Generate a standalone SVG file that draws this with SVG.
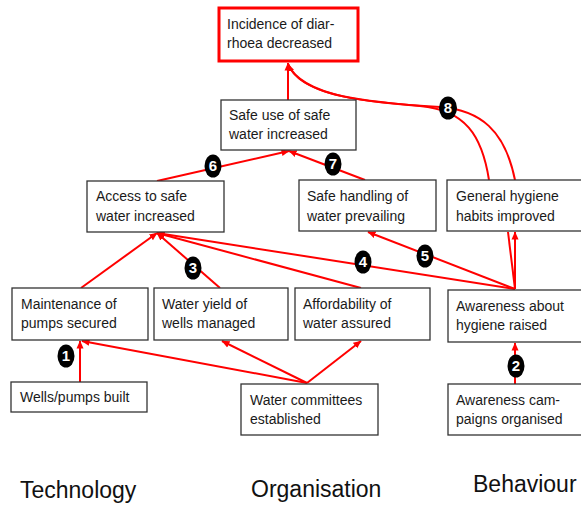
<svg xmlns="http://www.w3.org/2000/svg" width="581" height="507" viewBox="0 0 581 507">
<style>
.box{fill:#fff;stroke:#333;stroke-width:1.3}
.t{font-family:"Liberation Sans",Arial,sans-serif;font-size:14px;fill:#1a1a1a}
.big{font-family:"Liberation Sans",Arial,sans-serif;font-size:23px;fill:#111}
.c{fill:none;stroke:#ff0000;stroke-width:2}
.b{fill:#000}
.bt{font-family:"Liberation Sans",Arial,sans-serif;font-size:15px;font-weight:bold;fill:#fff;text-anchor:middle}
</style>
<defs>
<marker id="ah" markerWidth="9" markerHeight="9" refX="7.5" refY="4" orient="auto" markerUnits="userSpaceOnUse">
<path d="M0,0.5 L8,4 L0,7.5 z" fill="#ff0000"/>
</marker>
</defs>
<rect width="581" height="507" fill="#fff"/>
<g id="connectors">
<line class="c" x1="80" y1="382" x2="80" y2="341" marker-end="url(#ah)"/>
<line class="c" x1="307" y1="383" x2="82" y2="341" marker-end="url(#ah)"/>
<line class="c" x1="307" y1="383" x2="222" y2="341" marker-end="url(#ah)"/>
<line class="c" x1="307" y1="383" x2="361" y2="341" marker-end="url(#ah)"/>
<line class="c" x1="515" y1="384" x2="515" y2="343" marker-end="url(#ah)"/>
<line class="c" x1="81" y1="288" x2="157" y2="233" marker-end="url(#ah)"/>
<line class="c" x1="220" y1="288" x2="157" y2="233" marker-end="url(#ah)"/>
<line class="c" x1="361" y1="288" x2="157" y2="233" marker-end="url(#ah)"/>
<line class="c" x1="515" y1="289" x2="157" y2="233" marker-end="url(#ah)"/>
<line class="c" x1="515" y1="289" x2="368" y2="232" marker-end="url(#ah)"/>
<line class="c" x1="515" y1="289" x2="515" y2="232" marker-end="url(#ah)"/>
<line class="c" x1="515" y1="289" x2="508" y2="232"/>
<line class="c" x1="157" y1="181" x2="289" y2="151" marker-end="url(#ah)"/>
<line class="c" x1="365" y1="180" x2="289" y2="151" marker-end="url(#ah)"/>
<line class="c" x1="288" y1="100" x2="288" y2="63" marker-end="url(#ah)"/>
<path class="c" d="M489,180 C482,135 465,110 420,106 C360,101 300,95 288,64" marker-end="url(#ah)"/>
<path class="c" d="M515,180 C505,130 480,110 440,107 C370,103 302,97 288,64"/>
</g>
<g id="incidence"><rect x="219" y="8" width="139" height="53" fill="#fff" stroke="#ff0000" stroke-width="3"/><text class="t" x="227" y="29">Incidence of diar-</text><text class="t" x="227" y="48">rhoea decreased</text></g>
<g id="safeuse"><rect class="box" x="221" y="100" width="135" height="50"/><text class="t" x="229" y="120">Safe use of safe</text><text class="t" x="229" y="139">water increased</text></g>
<g id="access"><rect class="box" x="87" y="181" width="137" height="51"/><text class="t" x="96" y="201">Access to safe</text><text class="t" x="96" y="221">water increased</text></g>
<g id="handling"><rect class="box" x="299" y="180" width="137" height="51"/><text class="t" x="307" y="201">Safe handling of</text><text class="t" x="307" y="221">water prevailing</text></g>
<g id="hygiene"><rect class="box" x="447" y="180" width="136" height="51"/><text class="t" x="456" y="201">General hygiene</text><text class="t" x="456" y="221">habits improved</text></g>
<g id="maintenance"><rect class="box" x="12" y="288" width="136" height="52"/><text class="t" x="21" y="309">Maintenance of</text><text class="t" x="21" y="328">pumps secured</text></g>
<g id="wateryield"><rect class="box" x="154" y="288" width="134" height="52"/><text class="t" x="162" y="309">Water yield of</text><text class="t" x="162" y="328">wells managed</text></g>
<g id="affordability"><rect class="box" x="295" y="288" width="135" height="52"/><text class="t" x="303" y="309">Affordability of</text><text class="t" x="303" y="328">water assured</text></g>
<g id="awareness"><rect class="box" x="448" y="290" width="136" height="52"/><text class="t" x="456" y="311">Awareness about</text><text class="t" x="456" y="330">hygiene raised</text></g>
<g id="wells"><rect class="box" x="11" y="382" width="136" height="30"/><text class="t" x="20" y="402">Wells/pumps built</text></g>
<g id="committees"><rect class="box" x="241" y="384" width="137" height="51"/><text class="t" x="250" y="405">Water committees</text><text class="t" x="250" y="424">established</text></g>
<g id="campaigns"><rect class="box" x="448" y="384" width="136" height="51"/><text class="t" x="456" y="405">Awareness cam-</text><text class="t" x="456" y="424">paigns organised</text></g>
<g id="badges">
<ellipse class="b" cx="66" cy="356" rx="8.5" ry="11.5"/><text class="bt" x="66" y="361">1</text>
<ellipse class="b" cx="516" cy="366" rx="8.5" ry="11.5"/><text class="bt" x="516" y="371">2</text>
<ellipse class="b" cx="193" cy="268" rx="8.5" ry="11.5"/><text class="bt" x="193" y="273">3</text>
<ellipse class="b" cx="363" cy="262" rx="8.5" ry="11.5"/><text class="bt" x="363" y="267">4</text>
<ellipse class="b" cx="425" cy="256" rx="8.5" ry="11.5"/><text class="bt" x="425" y="261">5</text>
<ellipse class="b" cx="213" cy="166" rx="8.5" ry="11.5"/><text class="bt" x="213" y="171">6</text>
<ellipse class="b" cx="333" cy="164" rx="8.5" ry="11.5"/><text class="bt" x="333" y="169">7</text>
<ellipse class="b" cx="448" cy="108" rx="9" ry="11.5"/><text class="bt" x="448" y="113">8</text>
</g>
<g id="labels">
<text class="big" x="20" y="498">Technology</text>
<text class="big" x="251" y="497">Organisation</text>
<text class="big" x="473" y="492">Behaviour</text>
</g>
</svg>
